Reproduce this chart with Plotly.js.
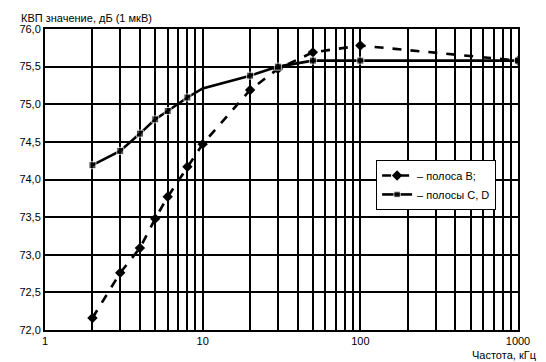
<!DOCTYPE html>
<html>
<head>
<meta charset="utf-8">
<script src="https://cdn.plot.ly/plotly-3.0.1.min.js"></script>
<style>html,body{margin:0;padding:0;background:#fff}#chart{width:546px;height:362px}</style>
</head>
<body>
<div id="chart"></div>
<script>
var freqB = [2, 3, 4, 5, 6, 8, 10, 20, 30, 50, 100, 1000];
var valB  = [72.16, 72.76, 73.09, 73.48, 73.77, 74.17, 74.47, 75.19, 75.47, 75.69, 75.78, 75.58];
var freqCD = [2, 3, 4, 5, 6, 8, 10, 20, 30, 50, 100, 1000];
var valCD  = [74.19, 74.38, 74.61, 74.80, 74.91, 75.09, 75.21, 75.38, 75.50, 75.58, 75.58, 75.58];
var nameB = "– полоса B;";
var nameCD = "– полосы C, D";
var yTitle = "КВП значение, дБ (1 мкВ)";
var xTitle = "Частота, кГц";
var decadeLabels = {1: "1", 10: "10", 100: "100", 1000: "1000"};

var tickvals = [];
var ticktext = [];
[1, 10, 100].forEach(function (d) {
  for (var k = 1; k < 10; k++) {
    tickvals.push(k * d);
    ticktext.push(decadeLabels[k * d] || "");
  }
});
tickvals.push(1000); ticktext.push("1000");

var font = {family: "Liberation Sans, Arial, sans-serif", size: 11, color: "#000"};

var traces = [
  {
    x: freqB, y: valB, name: nameB, type: "scatter", mode: "lines+markers",
    line: {color: "#000", width: 2.6, dash: "dash"},
    marker: {symbol: "diamond", size: 8, color: "#000"}
  },
  {
    x: freqCD, y: valCD, name: nameCD, type: "scatter", mode: "lines+markers",
    line: {color: "#000", width: 2.6},
    marker: {symbol: "square", size: [7, 7, 7, 7, 7, 7, 0, 7, 7, 7, 7, 7], color: "#000"}
  }
];

var layout = {
  width: 546, height: 362,
  margin: {l: 45, r: 28, t: 29, b: 32},
  paper_bgcolor: "#fff", plot_bgcolor: "#fff",
  font: font,
  separators: ", ",
  showlegend: true,
  legend: {
    x: 0.70, y: 0.565, xanchor: "left", yanchor: "top",
    bgcolor: "#fff", bordercolor: "#000", borderwidth: 1,
    font: {family: "Liberation Sans, Arial, sans-serif", size: 11, color: "#000"},
    tracegroupgap: 0, itemwidth: 30
  },
  xaxis: {
    type: "log", range: [0, 3],
    tickmode: "array", tickvals: tickvals, ticktext: ticktext,
    showgrid: true, gridcolor: "#000", gridwidth: 2,
    showline: true, linecolor: "#000", linewidth: 2, mirror: true,
    ticks: "", ticklen: 0, zeroline: false,
    tickfont: font
  },
  yaxis: {
    range: [72, 76], dtick: 0.5, tick0: 72, tickformat: ".1f",
    showgrid: true, gridcolor: "#000", gridwidth: 2,
    showline: true, linecolor: "#000", linewidth: 2, mirror: true,
    ticks: "", zeroline: false,
    tickfont: font
  },
  annotations: [
    {text: yTitle, xref: "paper", yref: "paper", x: -0.055, y: 1.0, xanchor: "left", yanchor: "bottom",
     yshift: 3, showarrow: false, font: font},
    {text: xTitle, xref: "paper", yref: "paper", x: 1.045, y: 0, xanchor: "right", yanchor: "top",
     yshift: -17, showarrow: false, font: font}
  ]
};

Plotly.newPlot("chart", traces, layout, {displayModeBar: false, staticPlot: true});
</script>
</body>
</html>
